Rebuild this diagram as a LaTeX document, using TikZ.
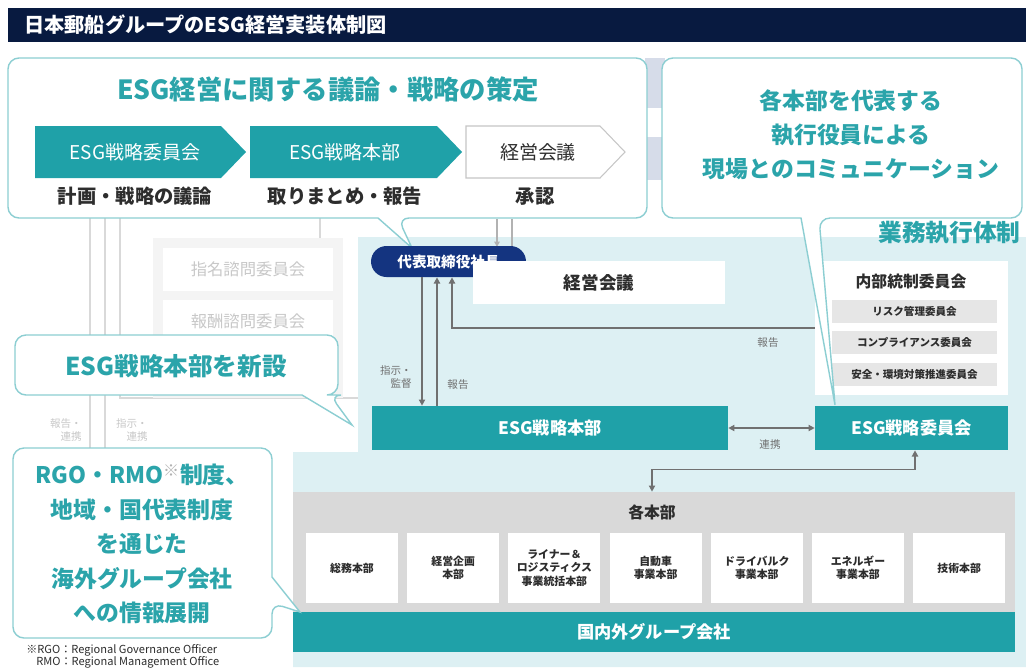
\documentclass[tikz,border=0pt]{standalone}
\usepackage{fontspec}
\setmainfont{Noto Sans CJK JP}
\usepackage{tikz}
\usetikzlibrary {
  arrows.meta,
  positioning,
}
\definecolor{navy}{RGB}{8,26,64}
\definecolor{presblue}{RGB}{20,52,128}
\definecolor{esgteal}{RGB}{31,161,168}
\definecolor{tealtext}{RGB}{43,164,170}
\definecolor{calloutline}{RGB}{140,206,210}
\definecolor{bglight}{RGB}{221,240,243}
\definecolor{panelgray}{RGB}{217,217,217}
\definecolor{rowgray}{RGB}{230,230,230}
\definecolor{arrowgray}{RGB}{112,112,112}
\definecolor{fadegray}{RGB}{200,200,200}
\definecolor{darktext}{RGB}{45,45,45}
\definecolor{stripblue}{RGB}{214,220,233}
\tikzset{
  bar/.style = {
    rectangle,
    fill = esgteal,
    text = white,
    inner sep = 0pt,
    font = \fontsize{9.8}{12}\selectfont\bfseries
  },
  whitebox/.style = {
    rectangle,
    fill = white,
    inner sep = 0pt,
    text = darktext
  },
  rowbox/.style = {
    rectangle,
    fill = rowgray,
    inner sep = 0pt,
    minimum width = 3.3cm,
    minimum height = 0.46cm,
    text = darktext,
    font = \fontsize{6}{7}\selectfont\bfseries
  },
  dept/.style = {
    whitebox,
    minimum width = 1.84cm,
    minimum height = 1.4cm,
    align = center,
    font = \fontsize{6.2}{7.6}\selectfont\bfseries
  },
  callout/.style = {
    draw = calloutline,
    fill = white,
    line width = 0.8pt
  },
  headline/.style = {
    text = tealtext,
    align = center,
    font = \fontsize{13}{19.4}\selectfont\bfseries
  },
  line/.style = {
    draw = arrowgray,
    line width = 0.9pt,
    -{Triangle[length = 3.5pt, width = 3.5pt]}
  },
  unir/.style = {
    line,
    {Triangle[length = 3.5pt, width = 3.5pt]}-{Triangle[length = 3.5pt, width = 3.5pt]}
  },
  tiny/.style = {
    text = arrowgray,
    align = right,
    inner sep = 0pt,
    font = \fontsize{6}{7.4}\selectfont
  },
  faded/.style = {
    draw = fadegray!70,
    line width = 0.8pt
  },
}

\begin{document}
\begin{tikzpicture}[x = 0.02cm, y = -0.02cm]
  \useasboundingbox (0,0) rectangle (1026,667);
  \fill[white] (0,0) rectangle (1026,667);

  % faded board structure behind
  \fill[stripblue] (645,58) rectangle (665,180);
  \fill[white] (645,108) rectangle (665,137);
  \draw[faded] (90,210) -- (90,448);
  \draw[faded] (105,210) -- (105,448);
  \draw[faded] (120,210) -- (120,398) -- (358,398);
  \draw[faded] (320,210) -- (320,238);
  \fill[gray!9] (153,238) rectangle (343,398);
  \node[whitebox, minimum width = 3.4cm, minimum height = 0.86cm,
    text = fadegray, font = \fontsize{9.3}{11}\selectfont] (shimei) at (248,269.5) {指名諮問委員会};
  \node[whitebox, minimum width = 3.4cm, minimum height = 0.84cm,
    text = fadegray, font = \fontsize{9.3}{11}\selectfont] (hoshu) at (248,321) {報酬諮問委員会};
  \node[tiny, text = fadegray, anchor = east] (fade1) at (82,430) {報告・\\連携};
  \node[tiny, text = fadegray, anchor = east] (fade2) at (148,430) {指示・\\連携};

  % 業務執行体制
  \fill[bglight] (358,237) -- (1026,237) -- (1026,667) -- (293,667)
    -- (293,452) -- (358,452) -- cycle;
  \node[text = tealtext, anchor = west, inner sep = 0pt,
    font = \fontsize{13.5}{16}\selectfont\bfseries] (shikko) at (878,233) {業務執行体制};

  \node[fill = navy, anchor = north west, minimum width = 20.36cm, minimum height = 0.68cm,
    inner sep = 0pt] (titlebar) at (8,8) {};
  \node[text = white, anchor = west, font = \fontsize{11.5}{13}\selectfont\bfseries]
    (title) at (18,25) {日本郵船グループのESG経営実装体制図};

  % lines from the board, under the president
  \coordinate (top1) at (497,219);
  \coordinate (top1e) at (497,247);
  \coordinate (top2) at (512,219);
  \coordinate (top2e) at (512,247);
  \draw[faded, draw = gray!60, -{Triangle[length = 3pt, width = 3pt]}] (top1) -- (top1e);
  \draw[faded, draw = gray!60] (top2) -- (top2e);

  % top left callout, under the president
  \draw[callout] (378,218) [rounded corners = 0.22cm] -- (8,218) -- (8,58) -- (647,58)
    -- (647,218) -- (398,218) [sharp corners] -- (412,248) -- cycle;
  \node[headline, font = \fontsize{15}{18}\selectfont\bfseries] (giron) at (328,89)
    {ESG経営に関する議論・戦略の策定};
  \fill[esgteal] (35,126) -- (221,126) -- (246,152) -- (221,178) -- (35,178) -- cycle;
  \fill[esgteal] (250,126) -- (437,126) -- (462,152) -- (437,178) -- (250,178) -- cycle;
  \draw[gray!45, line width = 0.6pt, fill = white]
    (466,126) -- (600,126) -- (625,152) -- (600,178) -- (466,178) -- cycle;
  \node[text = white, font = \fontsize{10.8}{13}\selectfont] (chev1) at (135,152) {ESG戦略委員会};
  \node[text = white, font = \fontsize{10.8}{13}\selectfont] (chev2) at (345,152) {ESG戦略本部};
  \node[text = darktext, font = \fontsize{10.8}{13}\selectfont] (chev3) at (538,152) {経営会議};
  \node[text = darktext, font = \fontsize{11}{13}\selectfont\bfseries] (step1) at (135,196) {計画・戦略の議論};
  \node[text = darktext, font = \fontsize{11}{13}\selectfont\bfseries] (step2) at (345,196) {取りまとめ・報告};
  \node[text = darktext, font = \fontsize{11}{13}\selectfont\bfseries] (step3) at (535,196) {承認};

  \node[rectangle, rounded corners = 0.31cm, fill = presblue, text = white,
    minimum width = 3.1cm, minimum height = 0.62cm, inner sep = 0pt,
    font = \fontsize{8.3}{10}\selectfont\bfseries] (pres) at (448.5,261.5) {代表取締役社長};
  \node[whitebox, minimum width = 5.04cm, minimum height = 0.86cm,
    font = \fontsize{10}{12}\selectfont\bfseries] (kaigi) at (599,282.5) {経営会議};
  \node[whitebox, minimum width = 3.86cm, minimum height = 2.68cm] (naibu) at (911.5,328) {};
  \node[text = darktext, font = \fontsize{9}{11}\selectfont\bfseries] (naibut) at (911,281) {内部統制委員会};
  \node[rowbox] (risk) at (914.5,311) {リスク管理委員会};
  \node[rowbox] (comp) at (914.5,342.5) {コンプライアンス委員会};
  \node[rowbox] (anzen) at (914.5,374) {安全・環境対策推進委員会};

  \node[bar, minimum width = 7.12cm, minimum height = 0.88cm] (honbu) at (550,428) {ESG戦略本部};
  \node[bar, minimum width = 3.86cm, minimum height = 0.88cm] (iinkai) at (911.5,428) {ESG戦略委員会};

  \node[rectangle, fill = panelgray, minimum width = 14.44cm, minimum height = 2.4cm,
    inner sep = 0pt] (kakuhonbu) at (654,552) {};
  \node[text = darktext, font = \fontsize{9}{11}\selectfont\bfseries] (kakut) at (652,512) {各本部};
  \foreach \name [count = \i from 0] in {{総務本部}, {経営企画\\本部},
      {ライナー＆\\ロジスティクス\\事業統括本部}, {自動車\\事業本部},
      {ドライバルク\\事業本部}, {エネルギー\\事業本部}, {技術本部}}
    \node[dept] (dept\i) at (352+101.2*\i,568) {\name};
  \node[bar, minimum width = 14.44cm, minimum height = 0.8cm] (group) at (654,632) {国内外グループ会社};

  % connectors
  \coordinate (shiji) at ([xshift = -0.53cm]pres.south);
  \coordinate (hokoku) at ([xshift = -0.23cm]pres.south);
  \coordinate (hokoku2) at ([xshift = 0.07cm]pres.south);
  \draw[line] (shiji) -- (shiji |- honbu.north);
  \draw[line] (hokoku |- honbu.north) -- (hokoku);
  \draw[line] (naibu.west) -| (hokoku2);
  \draw[unir] (honbu.east) -- (iinkai.west);
  \coordinate (ren1) at ([xshift = 0.07cm]iinkai.south);
  \coordinate (ren2) at ([xshift = -0.04cm]kakuhonbu.north);
  \draw[unir] (ren1) -- ++(0,19) -| (ren2);
  \node[tiny, anchor = east] (shijit) at (412,377) {指示・\\監督};
  \node[tiny] (hokokut) at (458,385) {報告};
  \node[tiny] (hokokut2) at (768,343) {報告};
  \node[tiny] (renkeit) at (770,444) {連携};

  % callouts
  \draw[callout] (801,218) [rounded corners = 0.22cm] -- (662,218) -- (662,58) -- (1022,58)
    -- (1022,218) -- (819,218) [sharp corners] -- (835,405) -- cycle;
  \node[headline] (comm) at (851,135)
    {各本部を代表する\\執行役員による\\現場とのコミュニケーション};

  \draw[callout] (302,395) [rounded corners = 0.22cm] -- (15,395) -- (15,335) -- (338,335)
    -- (338,395) -- (330,395) [sharp corners] -- (352,425) -- cycle;
  \node[headline, font = \fontsize{14}{17}\selectfont\bfseries] (shinsetsu) at (176,366)
    {ESG戦略本部を新設};

  \draw[callout] (272,577) [rounded corners = 0.22cm] -- (272,448) -- (13,448) -- (13,638)
    -- (272,638) -- (272,603) [sharp corners] -- (300,612) -- cycle;
  \node[headline, font = \fontsize{13}{19.6}\selectfont\bfseries] (rgo) at (142,544)
    {RGO・RMO\textsuperscript{\textcolor{gray!60}{※}}制度、\\地域・国代表制度\\を通じた\\海外グループ会社\\への情報展開};

  \node[anchor = west, inner sep = 0pt, text = darktext, font = \fontsize{6.3}{7}\selectfont]
    (note1) at (26,650) {※RGO：Regional Governance Officer};
  \node[anchor = west, inner sep = 0pt, text = darktext, font = \fontsize{6.3}{7}\selectfont]
    (note2) at (36,662) {RMO：Regional Management Office};
\end{tikzpicture}
\end{document}
